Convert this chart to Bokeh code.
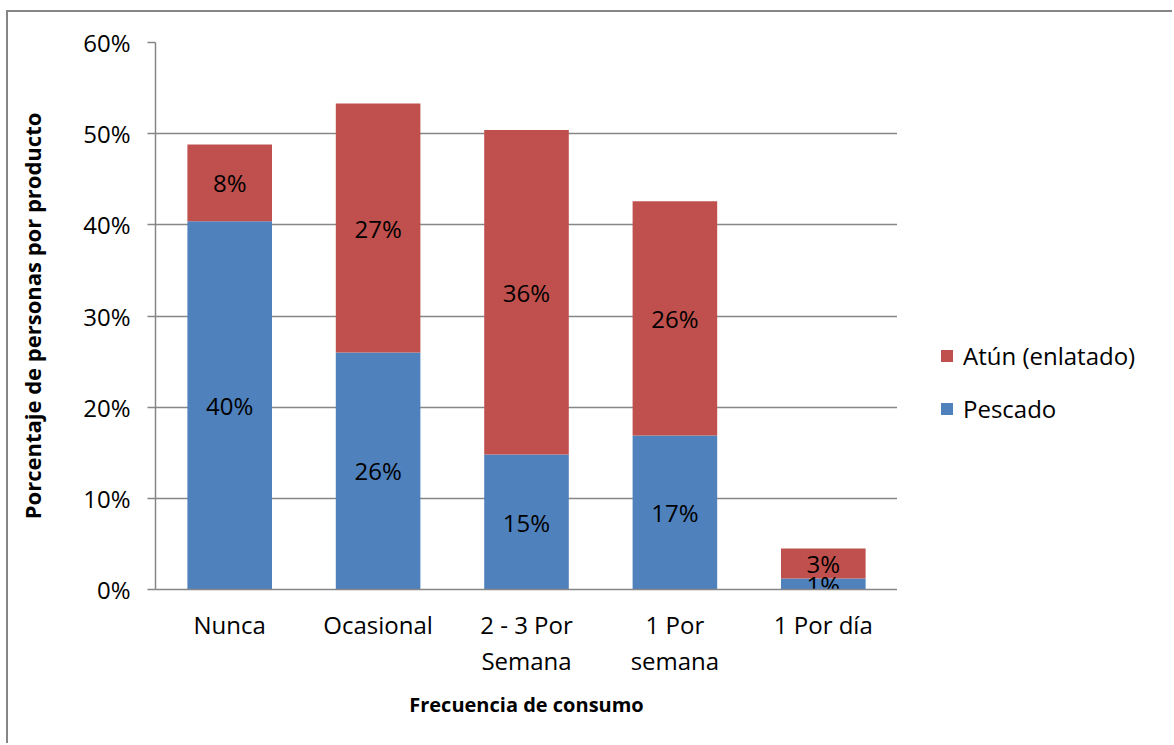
from bokeh.plotting import figure
from bokeh.layouts import row
from bokeh.models import Range1d, FactorRange, Legend, LegendItem, PrintfTickFormatter, ColumnDataSource
from bokeh.core.properties import value
from bokeh.embed import file_html
from bokeh.resources import INLINE

categories = ["Nunca", "Ocasional", "2 - 3 Por\nSemana", "1 Por\nsemana", "1 Por día"]
pescado = [40.4, 26.0, 14.8, 16.9, 1.2]
atun = [8.4, 27.3, 35.6, 25.7, 3.3]
pescado_labels = ["40%", "26%", "15%", "17%", "1%"]
atun_labels = ["8%", "27%", "36%", "26%", "3%"]
series_names = ["Pescado", "Atún (enlatado)"]
series_colors = ["#4F81BD", "#C0504D"]
y_ticks = [0, 10, 20, 30, 40, 50, 60]

GRAY = "#868686"
FONT = "Open Sans"

src = ColumnDataSource(dict(
    cat=categories,
    pescado=pescado,
    atun=atun,
    p_mid=[v / 2 for v in pescado],
    a_mid=[p + a / 2 for p, a in zip(pescado, atun)],
    p_lab=pescado_labels,
    a_lab=atun_labels,
))

p = figure(
    x_range=FactorRange(*categories, range_padding=0),
    y_range=Range1d(0, 60),
    width=891, height=733,
    output_backend="svg", toolbar_location=None,
    min_border_left=147, min_border_right=2,
    min_border_top=30, min_border_bottom=156,
    margin=(10, 0, 0, 6),
)
p.styles = {"border-top": f"2px solid {GRAY}", "border-left": f"2px solid {GRAY}"}
p.outline_line_color = None
p.background_fill_color = "white"
p.border_fill_color = "white"

rs = p.vbar_stack(["pescado", "atun"], x="cat", width=0.57, source=src,
                  color=series_colors, line_color=None)

p.text(x="cat", y="p_mid", text="p_lab", source=src, text_font=value(FONT),
       text_font_size="24px", text_align="center", text_baseline="middle", text_color="black")
p.text(x="cat", y="a_mid", text="a_lab", source=src, text_font=value(FONT),
       text_font_size="24px", text_align="center", text_baseline="middle", text_color="black")

# grid
p.xgrid.grid_line_color = None
p.ygrid.grid_line_color = GRAY
p.ygrid.grid_line_width = 1.5
p.ygrid.ticker = y_ticks

# y axis
p.yaxis.ticker = y_ticks
p.yaxis.formatter = PrintfTickFormatter(format="%d%%")
p.yaxis.axis_line_color = GRAY
p.yaxis.axis_line_width = 1.5
p.yaxis.major_tick_line_color = GRAY
p.yaxis.major_tick_line_width = 1.5
p.yaxis.major_tick_out = 8
p.yaxis.major_tick_in = 0
p.yaxis.minor_tick_line_color = None
p.yaxis.major_label_standoff = 17
p.yaxis.major_label_text_font = FONT
p.yaxis.major_label_text_font_size = "24px"
p.yaxis.major_label_text_color = "black"
p.yaxis.axis_label = "Porcentaje de personas por producto"
p.yaxis.axis_label_text_font = FONT
p.yaxis.axis_label_text_font_style = "bold"
p.yaxis.axis_label_text_font_size = "22px"
p.yaxis.axis_label_text_color = "black"
p.yaxis.axis_label_standoff = 33

# x axis
p.xaxis.axis_line_color = GRAY
p.xaxis.axis_line_width = 1.5
p.xaxis.major_tick_line_color = None
p.xaxis.major_tick_out = 0
p.xaxis.major_tick_in = 0
p.xaxis.minor_tick_line_color = None
p.xaxis.major_label_standoff = 18
p.xaxis.major_label_text_font = FONT
p.xaxis.major_label_text_font_size = "24px"
p.xaxis.major_label_text_color = "black"
p.xaxis.major_label_text_line_height = 1.1
p.xaxis.axis_label = "Frecuencia de consumo"
p.xaxis.axis_label_text_font = FONT
p.xaxis.axis_label_text_font_style = "bold"
p.xaxis.axis_label_text_font_size = "20px"
p.xaxis.axis_label_text_color = "black"
p.xaxis.axis_label_standoff = 11

# legend panel (separate canvas to the right of the plot area); its bars use the
# same data but are hidden, only the legend is seen
q = figure(width=275, height=733, output_backend="svg", toolbar_location=None,
           x_range=FactorRange(*categories), y_range=Range1d(0, 60),
           min_border=0, margin=(10, 0, 0, 0))
q.styles = {"border-top": f"2px solid {GRAY}"}
q.outline_line_color = None
q.axis.visible = False
q.grid.visible = False
q.background_fill_color = "white"
q.border_fill_color = "white"
leg_r = q.vbar_stack(["pescado", "atun"], x="cat", width=0.57, source=src,
                     color=series_colors, line_color=None)
for r in leg_r:
    r.visible = False

legend = Legend(
    items=[LegendItem(label=series_names[1], renderers=[leg_r[1]]),
           LegendItem(label=series_names[0], renderers=[leg_r[0]])],
    location=(42, 164),
    padding=0, margin=0,
    border_line_color=None, background_fill_alpha=0,
    inactive_fill_alpha=0,
    glyph_width=15, glyph_height=15,
    label_height=24, spacing=20, label_standoff=9,
    label_text_font=FONT, label_text_font_size="24px", label_text_color="black",
)
q.add_layout(legend, "center")

layout = row(p, q, spacing=0)
open("out.html", "w").write(file_html(layout, INLINE))
